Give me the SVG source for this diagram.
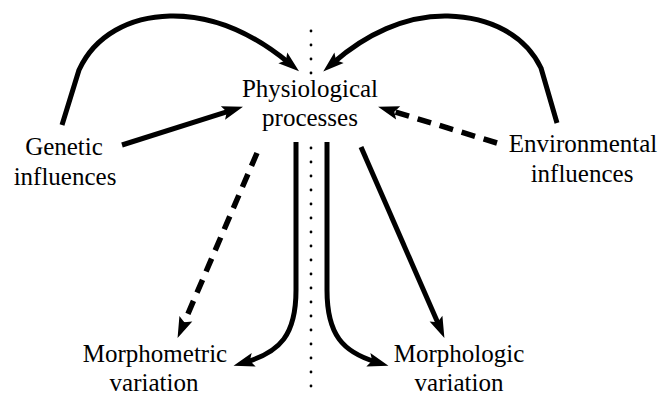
<svg xmlns="http://www.w3.org/2000/svg" width="668" height="397" viewBox="0 0 668 397">
<defs>
<marker id="ah" markerUnits="userSpaceOnUse" markerWidth="22" markerHeight="16" refX="8" refY="7" orient="auto" overflow="visible">
<path d="M0,0 L21,7 L0,14 L4,7 z" fill="#000"/>
</marker>
</defs>
<style>
.t{font-family:"Liberation Serif","Times New Roman",serif;font-size:25px;fill:#000;text-anchor:middle}
.s{fill:none;stroke:#000;stroke-width:5}
.d{fill:none;stroke:#000;stroke-width:5.5;stroke-dasharray:14 9}
.dot{fill:none;stroke:#000;stroke-width:2.8;stroke-linecap:round;stroke-dasharray:0 14}
</style>
<rect width="668" height="397" fill="#fff"/>
<g id="connectors">
<path class="dot" d="M311,31 L311,75"/>
<path class="dot" d="M311,148 L311,397"/>
<path class="s" marker-end="url(#ah)" d="M62,125 L79,70 C95,35 130,17 170,16 C215,15 255,35 289,63"/>
<path class="s" marker-end="url(#ah)" d="M557,123 L541,68 C525,35 490,17 448,16 C405,15 365,35 333,63"/>
<path class="s" marker-end="url(#ah)" d="M122,145 L230.6,110.6"/>
<path class="d" marker-end="url(#ah)" d="M497,143 L390.5,110.5"/>
<path class="d" marker-end="url(#ah)" d="M257,153 L182.7,326"/>
<path class="s" marker-end="url(#ah)" d="M361,147 L439.2,326"/>
<path class="s" marker-end="url(#ah)" d="M296,142 L296,290 C296,335 280,352 246,362"/>
<path class="s" marker-end="url(#ah)" d="M327,142 L327,290 C327,335 343,352 376,362"/>
</g>
<g id="physiological"><text class="t" x="310" y="97">Physiological</text><text class="t" x="310" y="126">processes</text></g>
<g id="genetic"><text class="t" x="64" y="155">Genetic</text><text class="t" x="65" y="185">influences</text></g>
<g id="environmental"><text class="t" x="583" y="152">Environmental</text><text class="t" x="582" y="182">influences</text></g>
<g id="morphometric"><text class="t" x="155" y="362">Morphometric</text><text class="t" x="154" y="391">variation</text></g>
<g id="morphologic"><text class="t" x="459" y="362">Morphologic</text><text class="t" x="459" y="391">variation</text></g>
</svg>
